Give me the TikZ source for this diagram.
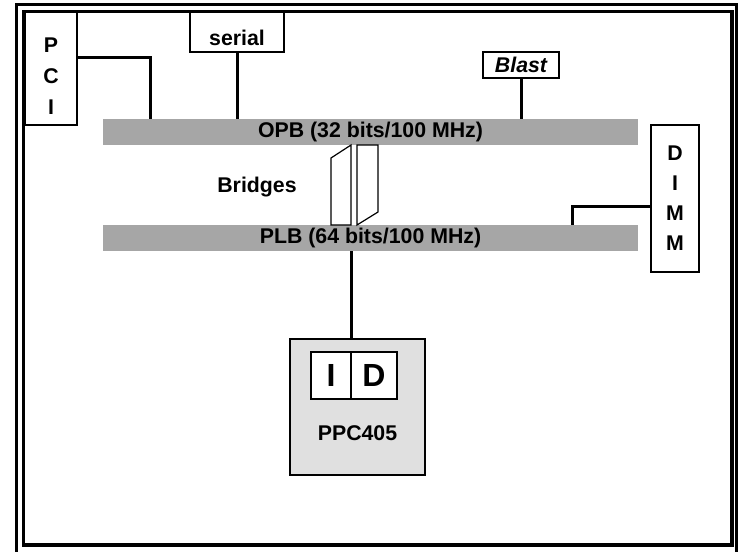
\documentclass[tikz,border=0pt]{standalone}
\usepackage{fontspec}
\setmainfont{Liberation Sans}
\newfontfamily\lblfont{Liberation Sans}
\colorlet{buscol}{black!35}
\colorlet{cpucol}{black!12}
\colorlet{framecol}{black}
\tikzset{every node/.style={font=\lblfont\bfseries\fontsize{21.3}{31}\selectfont}}

\begin{document}
\begin{tikzpicture}[x=1pt, y=-1pt,
  box/.style={draw, line width=2.5pt, fill=white, inner sep=0pt},
  cachebox/.style={draw, line width=1.2pt, fill=white, inner sep=0pt,
    minimum height=47pt, font=\bfseries\fontsize{32}{36}\selectfont},
  bus/.style={fill=buscol, minimum width=535pt, minimum height=26pt, inner sep=0pt},
  bridge/.style={draw, line width=1.2pt, fill=white},
  wire/.style={line width=3pt}]

  \useasboundingbox (0,0) rectangle (738,551);

  % Double frame.
  \draw[line width=3pt, framecol] (16.5,4.5) rectangle (736.5,556);
  \draw[line width=3.5pt, framecol] (23.5,11.3) rectangle (732,545);

  % Cards on the OPB side.
  \node[box, minimum width=52pt, minimum height=113pt,
    label={[align=center, yshift=-8pt]center:P\\C\\I}] (pci) at (51,68.5) {};
  \node[box, minimum width=94pt, minimum height=40pt,
    label={[yshift=-6pt]center:serial}] (serial) at (237,32) {};
  \node[box, minimum width=76pt, minimum height=26pt,
    font=\lblfont\bfseries\itshape\fontsize{21.3}{31}\selectfont] (blast) at (521,65) {Blast};

  % Memory.
  \node[box, minimum width=48pt, minimum height=147pt, align=center,
    font=\lblfont\bfseries\fontsize{21.3}{30}\selectfont] (dimm) at (675,198.5) {D\\I\\M\\M};

  % Buses.
  \node[bus] (opb) at (370.5,132) {OPB (32 bits/100 MHz)};
  \node[bus] (plb) at (370.5,238) {PLB (64 bits/100 MHz)};

  % Bridges between the two buses.
  \draw[bridge] (331,158) -- (351,145) -- (351,225) -- (331,225) -- cycle;
  \draw[bridge] (357,145) -- (378,145) -- (378,212) -- (357,225) -- cycle;
  \node (bridgelbl) at (257,187) {Bridges};

  % Processor with its caches.
  \node[box, fill=cpucol, minimum width=135pt, minimum height=136pt] (ppc) at (357.5,407) {};
  \node[cachebox, minimum width=40pt] (icache) at (331,375.5) {I};
  \node[cachebox, minimum width=46pt] (dcache) at (374,375.5) {D};
  \node (ppclbl) at (357.5,433) {PPC405};

  % Connectors.
  \coordinate (pcitap) at (150,58);
  \draw[wire] (pci.east |- pcitap) -- (pcitap) -- (pcitap |- opb.north);
  \draw[wire] (serial.south) -- (serial.south |- opb.north);
  \draw[wire] (blast.south) -- (blast.south |- opb.north);
  \coordinate (dimmtap) at (572,206);
  \draw[wire] (dimm.west |- dimmtap) -- (dimmtap) -- (dimmtap |- plb.north);
  \draw[wire] (plb.south -| icache.east) -- (ppc.north -| icache.east);

\end{tikzpicture}
\end{document}
